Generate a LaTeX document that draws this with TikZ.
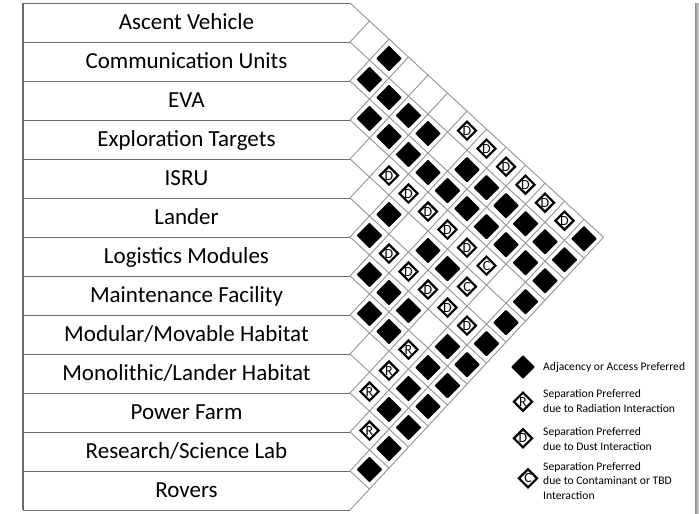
\documentclass[tikz,border=0pt]{standalone}
\usepackage{fontspec}
\setmainfont{Carlito}
\usepackage{tikz}
\usetikzlibrary{shapes}

\begin{document}
\begin{tikzpicture}[rowlabel/.style={anchor=base,inner sep=0pt,font=\fontsize{23}{27}\selectfont},
  adjcell/.style={diamond,fill=black,rounded corners=0.8pt,minimum size=26pt,inner sep=0pt},
  sepcell/.style={diamond,draw,line width=2.2pt,fill=white,minimum size=19pt,inner sep=0pt,font=\fontsize{14}{14}\selectfont},
  legtext/.style={anchor=west,align=left,inner sep=0pt,font=\fontsize{11.6}{14.5}\selectfont},
  latline/.style={draw=black!42,line width=0.9pt},
  rowline/.style={draw=black!58,line width=1pt}]
\useasboundingbox (0pt,0pt) rectangle (699pt,-514pt);
\shade[left color=black!45,right color=black!12] (695pt,-3pt) rectangle (699pt,-514pt);

% row boxes
\draw [rowline,line width=1.4pt] (23pt,-3pt) -- (23pt,-510pt);
\draw [rowline] (23pt,-3pt) -- (350pt,-3pt);
\draw [rowline] (23pt,-42pt) -- (350pt,-42pt);
\draw [rowline] (23pt,-81pt) -- (350pt,-81pt);
\draw [rowline] (23pt,-120pt) -- (350pt,-120pt);
\draw [rowline] (23pt,-159pt) -- (350pt,-159pt);
\draw [rowline] (23pt,-198pt) -- (350pt,-198pt);
\draw [rowline] (23pt,-237pt) -- (350pt,-237pt);
\draw [rowline] (23pt,-276pt) -- (350pt,-276pt);
\draw [rowline] (23pt,-315pt) -- (350pt,-315pt);
\draw [rowline] (23pt,-354pt) -- (350pt,-354pt);
\draw [rowline] (23pt,-393pt) -- (350pt,-393pt);
\draw [rowline] (23pt,-432pt) -- (350pt,-432pt);
\draw [rowline] (23pt,-471pt) -- (350pt,-471pt);
\draw [rowline] (23pt,-510pt) -- (350pt,-510pt);

\node (asc) at (186.5pt,-29.8pt)[rowlabel] {Ascent Vehicle};
\node (com) at (186.5pt,-68.8pt)[rowlabel] {Communication Units};
\node (eva) at (186.5pt,-107.8pt)[rowlabel] {EVA};
\node (exp) at (186.5pt,-146.8pt)[rowlabel] {Exploration Targets};
\node (isru) at (186.5pt,-185.8pt)[rowlabel] {ISRU};
\node (lan) at (186.5pt,-224.8pt)[rowlabel] {Lander};
\node (log) at (186.5pt,-263.8pt)[rowlabel] {Logistics Modules};
\node (mnt) at (186.5pt,-302.8pt)[rowlabel] {Maintenance Facility};
\node (mod) at (186.5pt,-341.8pt)[rowlabel] {Modular/Movable Habitat};
\node (mono) at (186.5pt,-380.8pt)[rowlabel] {Monolithic/Lander Habitat};
\node (pwr) at (186.5pt,-419.8pt)[rowlabel] {Power Farm};
\node (lab) at (186.5pt,-458.8pt)[rowlabel] {Research/Science Lab};
\node (rov) at (186.5pt,-497.8pt)[rowlabel] {Rovers};

% interaction triangle
\begin{scope}[shift={(350pt,0pt)},yslant=0.076]
\draw [latline] (0pt,-3pt) -- (253.5pt,-256.5pt);
\draw [latline] (19.5pt,-22.5pt) -- (0pt,-42pt) -- (234pt,-276pt);
\draw [latline] (39pt,-42pt) -- (0pt,-81pt) -- (214.5pt,-295.5pt);
\draw [latline] (58.5pt,-61.5pt) -- (0pt,-120pt) -- (195pt,-315pt);
\draw [latline] (78pt,-81pt) -- (0pt,-159pt) -- (175.5pt,-334.5pt);
\draw [latline] (97.5pt,-100.5pt) -- (0pt,-198pt) -- (156pt,-354pt);
\draw [latline] (117pt,-120pt) -- (0pt,-237pt) -- (136.5pt,-373.5pt);
\draw [latline] (136.5pt,-139.5pt) -- (0pt,-276pt) -- (117pt,-393pt);
\draw [latline] (156pt,-159pt) -- (0pt,-315pt) -- (97.5pt,-412.5pt);
\draw [latline] (175.5pt,-178.5pt) -- (0pt,-354pt) -- (78pt,-432pt);
\draw [latline] (195pt,-198pt) -- (0pt,-393pt) -- (58.5pt,-451.5pt);
\draw [latline] (214.5pt,-217.5pt) -- (0pt,-432pt) -- (39pt,-471pt);
\draw [latline] (234pt,-237pt) -- (0pt,-471pt) -- (19.5pt,-490.5pt);
\draw [latline] (253.5pt,-256.5pt) -- (0pt,-510pt);

% adjacency or access preferred
\node (c2-3) at (19.5pt,-81pt)[adjcell] {};
\node (c3-4) at (19.5pt,-120pt)[adjcell] {};
\node (c6-7) at (19.5pt,-237pt)[adjcell] {};
\node (c7-8) at (19.5pt,-276pt)[adjcell] {};
\node (c8-9) at (19.5pt,-315pt)[adjcell] {};
\node (c12-13) at (19.5pt,-471pt)[adjcell] {};
\node (c1-3) at (39pt,-61.5pt)[adjcell] {};
\node (c2-4) at (39pt,-100.5pt)[adjcell] {};
\node (c3-5) at (39pt,-139.5pt)[adjcell] {};
\node (c5-7) at (39pt,-217.5pt)[adjcell] {};
\node (c7-9) at (39pt,-295.5pt)[adjcell] {};
\node (c8-10) at (39pt,-334.5pt)[adjcell] {};
\node (c10-12) at (39pt,-412.5pt)[adjcell] {};
\node (c11-13) at (39pt,-451.5pt)[adjcell] {};
\node (c2-5) at (58.5pt,-120pt)[adjcell] {};
\node (c3-6) at (58.5pt,-159pt)[adjcell] {};
\node (c7-10) at (58.5pt,-315pt)[adjcell] {};
\node (c9-12) at (58.5pt,-393pt)[adjcell] {};
\node (c10-13) at (58.5pt,-432pt)[adjcell] {};
\node (c2-6) at (78pt,-139.5pt)[adjcell] {};
\node (c3-7) at (78pt,-178.5pt)[adjcell] {};
\node (c5-9) at (78pt,-256.5pt)[adjcell] {};
\node (c8-12) at (78pt,-373.5pt)[adjcell] {};
\node (c9-13) at (78pt,-412.5pt)[adjcell] {};
\node (c3-8) at (97.5pt,-198pt)[adjcell] {};
\node (c5-10) at (97.5pt,-276pt)[adjcell] {};
\node (c7-12) at (97.5pt,-354pt)[adjcell] {};
\node (c8-13) at (97.5pt,-393pt)[adjcell] {};
\node (c2-8) at (117pt,-178.5pt)[adjcell] {};
\node (c3-9) at (117pt,-217.5pt)[adjcell] {};
\node (c7-13) at (117pt,-373.5pt)[adjcell] {};
\node (c2-9) at (136.5pt,-198pt)[adjcell] {};
\node (c3-10) at (136.5pt,-237pt)[adjcell] {};
\node (c6-13) at (136.5pt,-354pt)[adjcell] {};
\node (c2-10) at (156pt,-217.5pt)[adjcell] {};
\node (c3-11) at (156pt,-256.5pt)[adjcell] {};
\node (c5-13) at (156pt,-334.5pt)[adjcell] {};
\node (c2-11) at (175.5pt,-237pt)[adjcell] {};
\node (c3-12) at (175.5pt,-276pt)[adjcell] {};
\node (c4-13) at (175.5pt,-315pt)[adjcell] {};
\node (c2-12) at (195pt,-256.5pt)[adjcell] {};
\node (c3-13) at (195pt,-295.5pt)[adjcell] {};
\node (c2-13) at (214.5pt,-276pt)[adjcell] {};
\node (c1-13) at (234pt,-256.5pt)[adjcell] {};

% separation preferred: dust
\node (c4-6) at (39pt,-178.5pt)[sepcell] {D};
\node (c6-8) at (39pt,-256.5pt)[sepcell] {D};
\node (c4-7) at (58.5pt,-198pt)[sepcell] {D};
\node (c6-9) at (58.5pt,-276pt)[sepcell] {D};
\node (c4-8) at (78pt,-217.5pt)[sepcell] {D};
\node (c6-10) at (78pt,-295.5pt)[sepcell] {D};
\node (c4-9) at (97.5pt,-237pt)[sepcell] {D};
\node (c6-11) at (97.5pt,-315pt)[sepcell] {D};
\node (c1-7) at (117pt,-139.5pt)[sepcell] {D};
\node (c4-10) at (117pt,-256.5pt)[sepcell] {D};
\node (c6-12) at (117pt,-334.5pt)[sepcell] {D};
\node (c1-8) at (136.5pt,-159pt)[sepcell] {D};
\node (c1-9) at (156pt,-178.5pt)[sepcell] {D};
\node (c1-10) at (175.5pt,-198pt)[sepcell] {D};
\node (c1-11) at (195pt,-217.5pt)[sepcell] {D};
\node (c1-12) at (214.5pt,-237pt)[sepcell] {D};

% separation preferred: radiation
\node (c10-11) at (19.5pt,-393pt)[sepcell] {R};
\node (c11-12) at (19.5pt,-432pt)[sepcell] {R};
\node (c9-11) at (39pt,-373.5pt)[sepcell] {R};
\node (c8-11) at (58.5pt,-354pt)[sepcell] {R};

% separation preferred: contaminant
\node (c5-11) at (117pt,-295.5pt)[sepcell] {C};
\node (c4-11) at (136.5pt,-276pt)[sepcell] {C};
\end{scope}

% legend
\node (ladj) at (523pt,-367pt)[adjcell,minimum size=24pt] {};
\node (lrad) at (523pt,-401.7pt)[sepcell] {R};
\node (ldst) at (523pt,-438.3pt)[sepcell] {D};
\node (lcon) at (528pt,-478.3pt)[sepcell] {C};
\node (tadj) at (543pt,-367pt)[legtext] {Adjacency or Access Preferred};
\node (trad) at (543pt,-401pt)[legtext] {Separation Preferred\\due to Radiation Interaction};
\node (tdst) at (543pt,-439pt)[legtext] {Separation Preferred\\due to Dust Interaction};
\node (tcon) at (543pt,-481pt)[legtext] {Separation Preferred\\due to Contaminant or TBD\\Interaction};
\end{tikzpicture}
\end{document}
